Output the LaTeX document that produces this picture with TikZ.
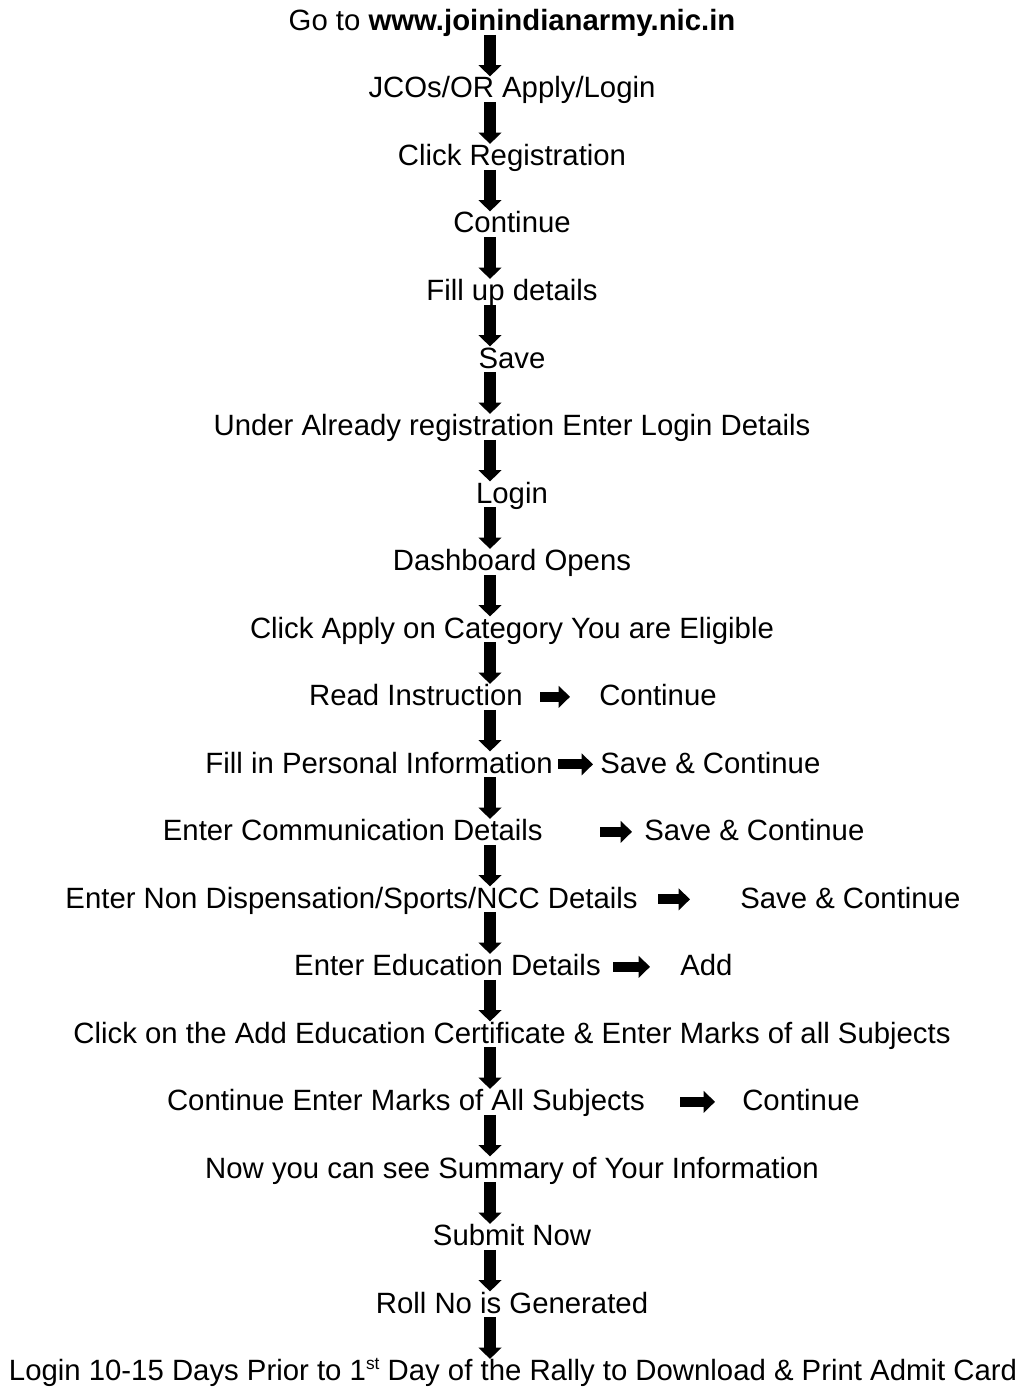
\documentclass[tikz,border=0pt]{standalone}
\usepackage{fontspec}
\setmainfont{Liberation Sans}
\usetikzlibrary{arrows.meta}

\begin{document}
\begin{tikzpicture} [x=0.75pt, y=-0.75pt,
    step text/.style={inner sep=0, text height=16pt, text depth=3pt, font=\fontsize{22pt}{26pt}\selectfont},
    varrow/.style={line width=8.75pt, -{Triangle[width=17pt,length=8.5pt]}},
    harrow/.style={line width=7.5pt, -{Triangle[width=16pt,length=8.5pt]}}]
    % frame %
    \useasboundingbox (0,0) rectangle (1022,1387);
    \coordinate (spine) at (490,0);

    % steps down the middle %
    \node [step text, anchor=base] (r0) at (512, 30.5) {Go to \textbf{www.joinindianarmy.nic.in}};
    \node [step text, anchor=base] (r1) at (512, 98) {JCOs/OR Apply/Login};
    \node [step text, anchor=base] (r2) at (512, 165.5) {Click Registration};
    \node [step text, anchor=base] (r3) at (512, 233) {Continue};
    \node [step text, anchor=base] (r4) at (512, 300.5) {Fill up details};
    \node [step text, anchor=base] (r5) at (512, 368) {Save};
    \node [step text, anchor=base] (r6) at (512, 435.5) {Under Already registration Enter Login Details};
    \node [step text, anchor=base] (r7) at (512, 503) {Login};
    \node [step text, anchor=base] (r8) at (512, 570.5) {Dashboard Opens};
    \node [step text, anchor=base] (r9) at (512, 638) {Click Apply on Category You are Eligible};
    \node [step text, anchor=base east] (r10) at (523, 705.5) {Read Instruction};
    \node [step text, anchor=base west] (r10b) at (599, 705.5) {Continue};
    \node [step text, anchor=base east] (r11) at (553, 773) {Fill in Personal Information};
    \node [step text, anchor=base west] (r11b) at (600, 773) {Save \& Continue};
    \node [step text, anchor=base east] (r12) at (543, 840.5) {Enter Communication Details};
    \node [step text, anchor=base west] (r12b) at (644, 840.5) {Save \& Continue};
    \node [step text, anchor=base east] (r13) at (638, 908) {Enter Non Dispensation/Sports/NCC Details};
    \node [step text, anchor=base west] (r13b) at (740, 908) {Save \& Continue};
    \node [step text, anchor=base east] (r14) at (601, 975.5) {Enter Education Details};
    \node [step text, anchor=base west] (r14b) at (680, 975.5) {Add};
    \node [step text, anchor=base] (r15) at (512, 1043) {Click on the Add Education Certificate \& Enter Marks of all Subjects};
    \node [step text, anchor=base east] (r16) at (645, 1110.5) {Continue Enter Marks of All Subjects};
    \node [step text, anchor=base west] (r16b) at (742, 1110.5) {Continue};
    \node [step text, anchor=base] (r17) at (512, 1178) {Now you can see Summary of Your Information};
    \node [step text, anchor=base] (r18) at (512, 1245.5) {Submit Now};
    \node [step text, anchor=base] (r19) at (512, 1313) {Roll No is Generated};
    \node [step text, anchor=base] (r20) at (513, 1380.5) {Login 10-15 Days Prior to 1\raisebox{8pt}{\fontsize{13pt}{15pt}\selectfont st} Day of the Rally to Download \& Print Admit Card};

    % arrows down %
    \foreach \a/\b in {r0/r1, r1/r2, r2/r3, r3/r4, r4/r5, r5/r6, r6/r7, r7/r8, r8/r9, r9/r10,
        r10/r11, r11/r12, r12/r13, r13/r14, r14/r15, r15/r16, r16/r17, r17/r18, r18/r19, r19/r20}
      \draw [varrow] (\a.south -| spine) -- (\b.north -| spine);

    % arrows across %
    \draw [harrow, shorten <=12.75pt, shorten >=21.75pt] (r10) -- (r10b);
    \draw [harrow, shorten <=3.75pt, shorten >=5.25pt] (r11) -- (r11b);
    \draw [harrow, shorten <=42.75pt, shorten >=9pt] (r12) -- (r12b);
    \draw [harrow, shorten <=15pt, shorten >=37.5pt] (r13) -- (r13b);
    \draw [harrow, shorten <=9pt, shorten >=22.5pt] (r14) -- (r14b);
    \draw [harrow, shorten <=26.25pt, shorten >=20.25pt] (r16) -- (r16b);
  \end{tikzpicture}
\end{document}
